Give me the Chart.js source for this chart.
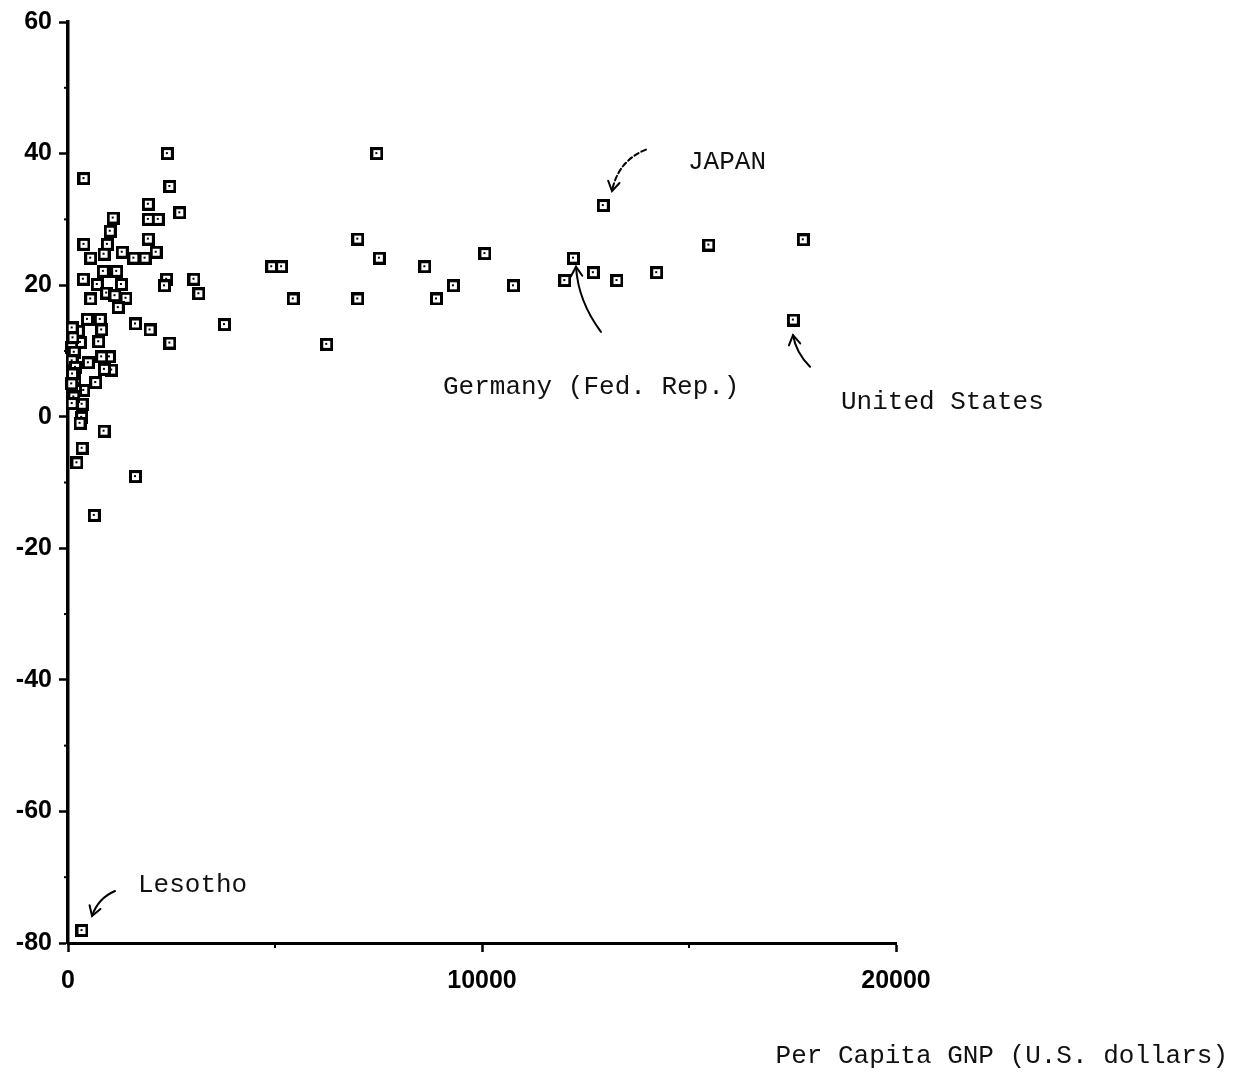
<!DOCTYPE html>
<html>
<head>
<meta charset="utf-8">
<script src="https://cdn.jsdelivr.net/npm/chart.js@4.4.1/dist/chart.umd.min.js"></script>
<style>
  html, body { margin: 0; padding: 0; background: #fff; }
  #wrap { width: 1245px; height: 1073px; position: relative; }
</style>
</head>
<body>
<div id="wrap"><canvas id="c" width="1245" height="1073"></canvas></div>
<script>
// ---- Data ----
// Per capita GNP (U.S. dollars)
const gnp = [
  386, 2400, 2460, 1940, 1940, 2180, 2700, 1090, 1020, 950,
  386, 548, 870, 1310, 1590, 1860, 1940, 2130, 370, 853,
  1175, 708, 1290, 934, 548, 1135, 1400, 1215, 2383, 2330,
  3043, 3160, 3780, 1630, 1981, 2460, 470, 780, 250, 813,
  300, 740, 1000, 813, 491, 1055, 880, 670, 380, 180,
  169, 340, 330, 290, 870, 340, 215, 1630, 635, 338,
  100, 120, 90, 150, 100, 180, 110, 90, 140, 100,
  7460, 7000, 7520, 4920, 5160, 5440, 7000, 6250, 8620, 9310,
  8900, 10070, 10760, 12930, 12210, 12000, 12690, 13260, 14220, 15480,
  17760, 17520
];
// Growth values (vertical axis)
const growth = [
  36.2, 40.0, 35.0, 32.3, 30.0, 30.0, 31.0, 30.2, 28.2, 26.2,
  26.2, 24.1, 24.7, 25.0, 24.1, 24.1, 27.0, 25.0, 20.9, 22.1,
  22.1, 20.1, 20.1, 18.8, 17.9, 18.4, 18.0, 16.6, 20.9, 19.9,
  20.9, 18.7, 14.0, 14.1, 13.2, 11.2, 14.8, 14.8, 13.0, 13.2,
  11.3, 11.4, 9.1, 9.1, 8.2, 7.1, 7.2, 5.2, 4.0, 4.0,
  5.8, 1.9, -0.1, -1.0, -2.2, -4.8, -7.0, -9.1, -15.0, -78.1,
  13.5, 12.0, 10.5, 9.8, 8.5, 7.5, 6.5, 5.0, 3.0, 2.0,
  40.0, 27.0, 24.1, 22.8, 22.8, 17.9, 17.9, 11.0, 22.8, 19.9,
  17.9, 24.8, 19.9, 32.1, 24.1, 20.7, 21.9, 20.7, 21.9, 26.1,
  26.9, 14.7
];
const xTickValues = [0, 10000, 20000];
const yTickValues = [-80, -60, -40, -20, 0, 20, 40, 60];
const xMinorTicks = [5000, 15000];
const yMinorTicks = [-70, -50, -30, -10, 10, 30, 50];

// Annotation labels and arrows (data coordinates)
const labels = [
  { text: 'JAPAN', x: 14976, y: 37.7 },
  { text: 'Germany (Fed. Rep.)', x: 9058, y: 3.4 },
  { text: 'United States', x: 18671, y: 1.2 },
  { text: 'Lesotho', x: 1691, y: -72.3 }
];
const arrows = [
  { from: [13961, 40.6], ctrl: [13285, 38.9], to: [13140, 34.3], dash: true },
  { from: [12874, 12.9], ctrl: [12319, 17.6], to: [12271, 22.8] },
  { from: [17923, 7.6], ctrl: [17585, 9.7], to: [17512, 12.4] },
  { from: [1135, -72.1], ctrl: [725, -73.2], to: [580, -75.9] }
];
const xTitle = 'Per Capita GNP (U.S. dollars)';

// ---- Marker: square with a dot ----
function makeMarker() {
  const c = document.createElement('canvas');
  c.width = 13; c.height = 13;
  const g = c.getContext('2d');
  g.fillStyle = '#000'; g.fillRect(0, 0, 13, 13);
  g.fillStyle = '#fff'; g.fillRect(3, 3, 7, 7);
  g.fillStyle = '#000'; g.fillRect(5, 5, 2, 2);
  return c;
}
const marker = makeMarker();

const points = gnp.map((v, i) => ({ x: v, y: growth[i] }));

const extras = {
  id: 'extras',
  afterDraw(chart) {
    const ctx = chart.ctx;
    const xs = chart.scales.x, ys = chart.scales.y;
    ctx.save();
    // minor ticks
    ctx.strokeStyle = '#000';
    ctx.lineWidth = 2;
    xMinorTicks.forEach(v => {
      const px = xs.getPixelForValue(v);
      ctx.beginPath(); ctx.moveTo(px, ys.bottom); ctx.lineTo(px, ys.bottom + 5); ctx.stroke();
    });
    yMinorTicks.forEach(v => {
      const py = ys.getPixelForValue(v);
      ctx.beginPath(); ctx.moveTo(xs.left, py); ctx.lineTo(xs.left - 4, py); ctx.stroke();
    });
    // labels
    ctx.fillStyle = '#111';
    ctx.font = '26px "Liberation Mono", "Courier New", monospace';
    ctx.textAlign = 'left';
    ctx.textBaseline = 'alphabetic';
    labels.forEach(l => {
      ctx.fillText(l.text, xs.getPixelForValue(l.x), ys.getPixelForValue(l.y));
    });
    // arrows
    ctx.lineWidth = 2;
    ctx.lineCap = 'round';
    arrows.forEach(a => {
      const p0 = [xs.getPixelForValue(a.from[0]), ys.getPixelForValue(a.from[1])];
      const p1 = [xs.getPixelForValue(a.ctrl[0]), ys.getPixelForValue(a.ctrl[1])];
      const p2 = [xs.getPixelForValue(a.to[0]), ys.getPixelForValue(a.to[1])];
      ctx.setLineDash(a.dash ? [5, 3] : []);
      ctx.beginPath();
      ctx.moveTo(p0[0], p0[1]);
      ctx.quadraticCurveTo(p1[0], p1[1], p2[0], p2[1]);
      ctx.stroke();
      ctx.setLineDash([]);
      const dx = p2[0] - p1[0], dy = p2[1] - p1[1];
      const ang = Math.atan2(dy, dx);
      const L = 11;
      ctx.beginPath();
      ctx.moveTo(p2[0] - L * Math.cos(ang - 0.55), p2[1] - L * Math.sin(ang - 0.55));
      ctx.lineTo(p2[0], p2[1]);
      ctx.lineTo(p2[0] - L * Math.cos(ang + 0.55), p2[1] - L * Math.sin(ang + 0.55));
      ctx.stroke();
    });
    // x axis title
    ctx.textAlign = 'right';
    ctx.fillText(xTitle, 1228, 1063);
    ctx.restore();
  }
};

new Chart(document.getElementById('c'), {
  type: 'scatter',
  data: {
    datasets: [{
      data: points,
      pointStyle: marker,
      pointRadius: 6,
      clip: false
    }]
  },
  options: {
    responsive: false,
    animation: false,
    devicePixelRatio: 1,
    events: [],
    layout: { padding: { top: 21, right: 349, bottom: 0, left: 0 } },
    plugins: { legend: { display: false }, tooltip: { enabled: false } },
    scales: {
      x: {
        type: 'linear',
        min: 0, max: 20000,
        afterBuildTicks: s => { s.ticks = xTickValues.map(v => ({ value: v })); },
        afterFit: s => { s.height = 130; },
        border: { display: true, color: '#000', width: 3 },
        grid: { display: true, drawOnChartArea: false, drawTicks: true, tickLength: 9, tickColor: '#000', tickWidth: 2.5 },
        ticks: {
          color: '#000', padding: 14, maxRotation: 0,
          font: { family: '"Liberation Sans", Arial, sans-serif', size: 25, weight: 'bold' },
          callback: v => String(v)
        }
      },
      y: {
        type: 'linear',
        min: -80, max: 60,
        afterBuildTicks: s => { s.ticks = yTickValues.map(v => ({ value: v })); },
        afterFit: s => { s.width = 68; },
        border: { display: true, color: '#000', width: 3.5 },
        grid: { display: true, drawOnChartArea: false, drawTicks: true, tickLength: 9, tickColor: '#000', tickWidth: 2.5 },
        ticks: {
          color: '#000', padding: 7,
          font: { family: '"Liberation Sans", Arial, sans-serif', size: 25, weight: 'bold' },
          callback: v => String(v)
        }
      }
    }
  },
  plugins: [extras]
});
</script>
</body>
</html>
